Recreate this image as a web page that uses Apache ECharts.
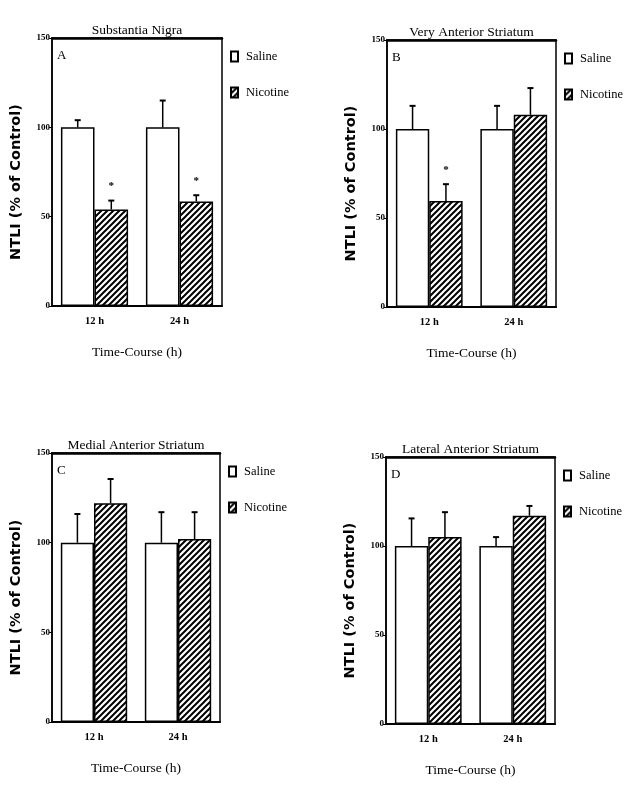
<!DOCTYPE html>
<html>
<head>
<meta charset="utf-8">
<script src="https://cdn.jsdelivr.net/npm/echarts@6/dist/echarts.min.js"></script>
<style>html,body{margin:0;padding:0;background:#fff;}#c{width:629px;height:789px;}</style>
</head>
<body>
<div id="c"></div>
<script>
// ---- data ----
const categories = ['12 h', '24 h'];
const yTicks = [0, 50, 100, 150];
const panelTitles = ['Substantia Nigra', 'Very Anterior Striatum', 'Medial Anterior Striatum', 'Lateral Anterior Striatum'];
const panelLetters = ['A', 'B', 'C', 'D'];
const seriesNames = ['Saline', 'Nicotine'];

const salineA = [100, 100];
const salineErrA = [4, 15];
const nicotineA = [54, 58.5];
const nicotineErrA = [5, 3.5];
const nicotineSigA = [true, true];

const salineB = [100, 100];
const salineErrB = [13, 13];
const nicotineB = [59.5, 108];
const nicotineErrB = [9.5, 15];
const nicotineSigB = [true, false];

const salineC = [100, 100];
const salineErrC = [16, 17];
const nicotineC = [122, 102];
const nicotineErrC = [13.5, 15];
const nicotineSigC = [false, false];

const salineD = [100, 100];
const salineErrD = [15.5, 5];
const nicotineD = [105, 117];
const nicotineErrD = [14, 5.5];
const nicotineSigD = [false, false];

const panels = [
  {sal: salineA, salE: salineErrA, nic: nicotineA, nicE: nicotineErrA, sig: nicotineSigA},
  {sal: salineB, salE: salineErrB, nic: nicotineB, nicE: nicotineErrB, sig: nicotineSigB},
  {sal: salineC, salE: salineErrC, nic: nicotineC, nicE: nicotineErrC, sig: nicotineSigC},
  {sal: salineD, salE: salineErrD, nic: nicotineD, nicE: nicotineErrD, sig: nicotineSigD}
];

// ---- layout ----
const grids = [
  {left: 52, top: 38, width: 170, height: 268},
  {left: 387, top: 40, width: 169, height: 267},
  {left: 52, top: 453, width: 168, height: 269},
  {left: 386, top: 457, width: 169, height: 267}
];
const catGap = 0.21;

// hatch pattern
const tile = document.createElement('canvas');
tile.width = 6; tile.height = 6;
const tctx = tile.getContext('2d');
tctx.fillStyle = '#fff'; tctx.fillRect(0, 0, 6, 6);
tctx.strokeStyle = '#000'; tctx.lineWidth = 2.0; tctx.lineCap = 'square';
tctx.beginPath();
tctx.moveTo(-1, 7); tctx.lineTo(7, -1);
tctx.moveTo(-4, 4); tctx.lineTo(4, -4);
tctx.moveTo(2, 10); tctx.lineTo(10, 2);
tctx.stroke();
const hatch = {image: tile, repeat: 'repeat'};

const serif = 'Liberation Serif';
const option = {
  backgroundColor: '#fff',
  animation: false,
  title: [], grid: [], xAxis: [], yAxis: [], series: [], legend: []
};

grids.forEach((g, i) => {
  option.grid.push(Object.assign({show: true, borderColor: '#000', borderWidth: 1.5, backgroundColor: 'transparent'}, g));
  option.title.push({
    text: panelTitles[i], left: g.left + g.width / 2, top: g.top - 15, textAlign: 'center', padding: 0,
    textStyle: {fontFamily: serif, fontSize: 13.5, fontWeight: 'normal', color: '#000'}
  });
  option.title.push({
    text: panelLetters[i], left: g.left + 5, top: g.top + 11, padding: 0,
    textStyle: {fontFamily: serif, fontSize: 13, fontWeight: 'normal', color: '#000'}
  });
  option.xAxis.push({
    type: 'category', gridIndex: i, data: categories, boundaryGap: true,
    axisLine: {lineStyle: {color: '#000', width: 2}},
    axisTick: {alignWithLabel: true, length: 6, lineStyle: {color: '#000', width: 1}},
    axisLabel: {fontFamily: serif, fontWeight: 'bold', fontSize: 10.5, color: '#000', margin: 10},
    name: 'Time-Course (h)', nameLocation: 'middle', nameGap: 39,
    nameTextStyle: {fontFamily: serif, fontSize: 13.5, color: '#000'}
  });
  option.xAxis.push({
    type: 'category', gridIndex: i, data: categories, position: 'top',
    axisLine: {lineStyle: {color: '#000', width: 2.5}},
    axisTick: {show: false}, axisLabel: {show: false}
  });
  option.yAxis.push({
    type: 'value', gridIndex: i, min: yTicks[0], max: yTicks[yTicks.length - 1], interval: 50,
    axisLine: {show: true, lineStyle: {color: '#000', width: 1.5}},
    axisTick: {show: true, length: 3, lineStyle: {color: '#000'}},
    splitLine: {show: false},
    axisLabel: {fontFamily: serif, fontWeight: 'bold', fontSize: 9, color: '#000', margin: 2},
    name: 'NTLI (% of Control)', nameLocation: 'middle', nameGap: 28,
    nameTextStyle: {fontFamily: 'DejaVu Sans', fontWeight: 'bold', fontSize: 14.5, color: '#000', padding: [0, 20, 0, 0]}
  });
  const p = panels[i];
  option.series.push({
    name: seriesNames[0], type: 'bar', xAxisIndex: 2 * i, yAxisIndex: i,
    data: p.sal, barGap: '0%', barCategoryGap: (catGap * 100) + '%',
    itemStyle: {color: '#fff', borderColor: '#000', borderWidth: 1.5}
  });
  option.series.push({
    name: seriesNames[1], type: 'bar', xAxisIndex: 2 * i, yAxisIndex: i,
    data: p.nic, barGap: '0%', barCategoryGap: (catGap * 100) + '%',
    itemStyle: {color: hatch, borderColor: '#000', borderWidth: 1.5}
  });
  const errData = [];
  categories.forEach((c, k) => {
    errData.push([k, p.sal[k], p.salE[k], 0, 0]);
    errData.push([k, p.nic[k], p.nicE[k], 1, p.sig[k] ? 1 : 0]);
  });
  option.series.push({
    type: 'custom', xAxisIndex: 2 * i, yAxisIndex: i, data: errData, z: 5,
    renderItem: function (params, api) {
      const k = api.value(0), v = api.value(1), e = api.value(2), grp = api.value(3), sig = api.value(4);
      const band = api.size([1, 0])[0];
      const bw = band * (1 - catGap) / 2;
      const base = api.coord([k, v]);
      const top = api.coord([k, v + e]);
      const x = base[0] + (grp === 0 ? -bw / 2 : bw / 2);
      const children = [
        {type: 'line', shape: {x1: x, y1: base[1], x2: x, y2: top[1]}, style: {stroke: '#000', lineWidth: 1.5}},
        {type: 'line', shape: {x1: x - 3, y1: top[1], x2: x + 3, y2: top[1]}, style: {stroke: '#000', lineWidth: 2}}
      ];
      if (sig) {
        children.push({type: 'text', style: {text: '*', x: x, y: top[1] - 9, textAlign: 'center', textVerticalAlign: 'bottom', font: 'bold 11px "Liberation Serif"', fill: '#000'}});
      }
      return {type: 'group', children: children};
    }
  });
  option.legend.push({
    data: seriesNames, orient: 'vertical', left: g.left + g.width + 8, top: g.top + 12, padding: 0,
    icon: 'rect', itemWidth: 7, itemHeight: 10, itemGap: 23, selectedMode: false,
    textStyle: {fontFamily: serif, fontSize: 12.5, color: '#000', padding: [0, 0, 0, 3]}
  });
});

const chart = echarts.init(document.getElementById('c'), null, {renderer: 'canvas'});
chart.setOption(option);
</script>
</body>
</html>
